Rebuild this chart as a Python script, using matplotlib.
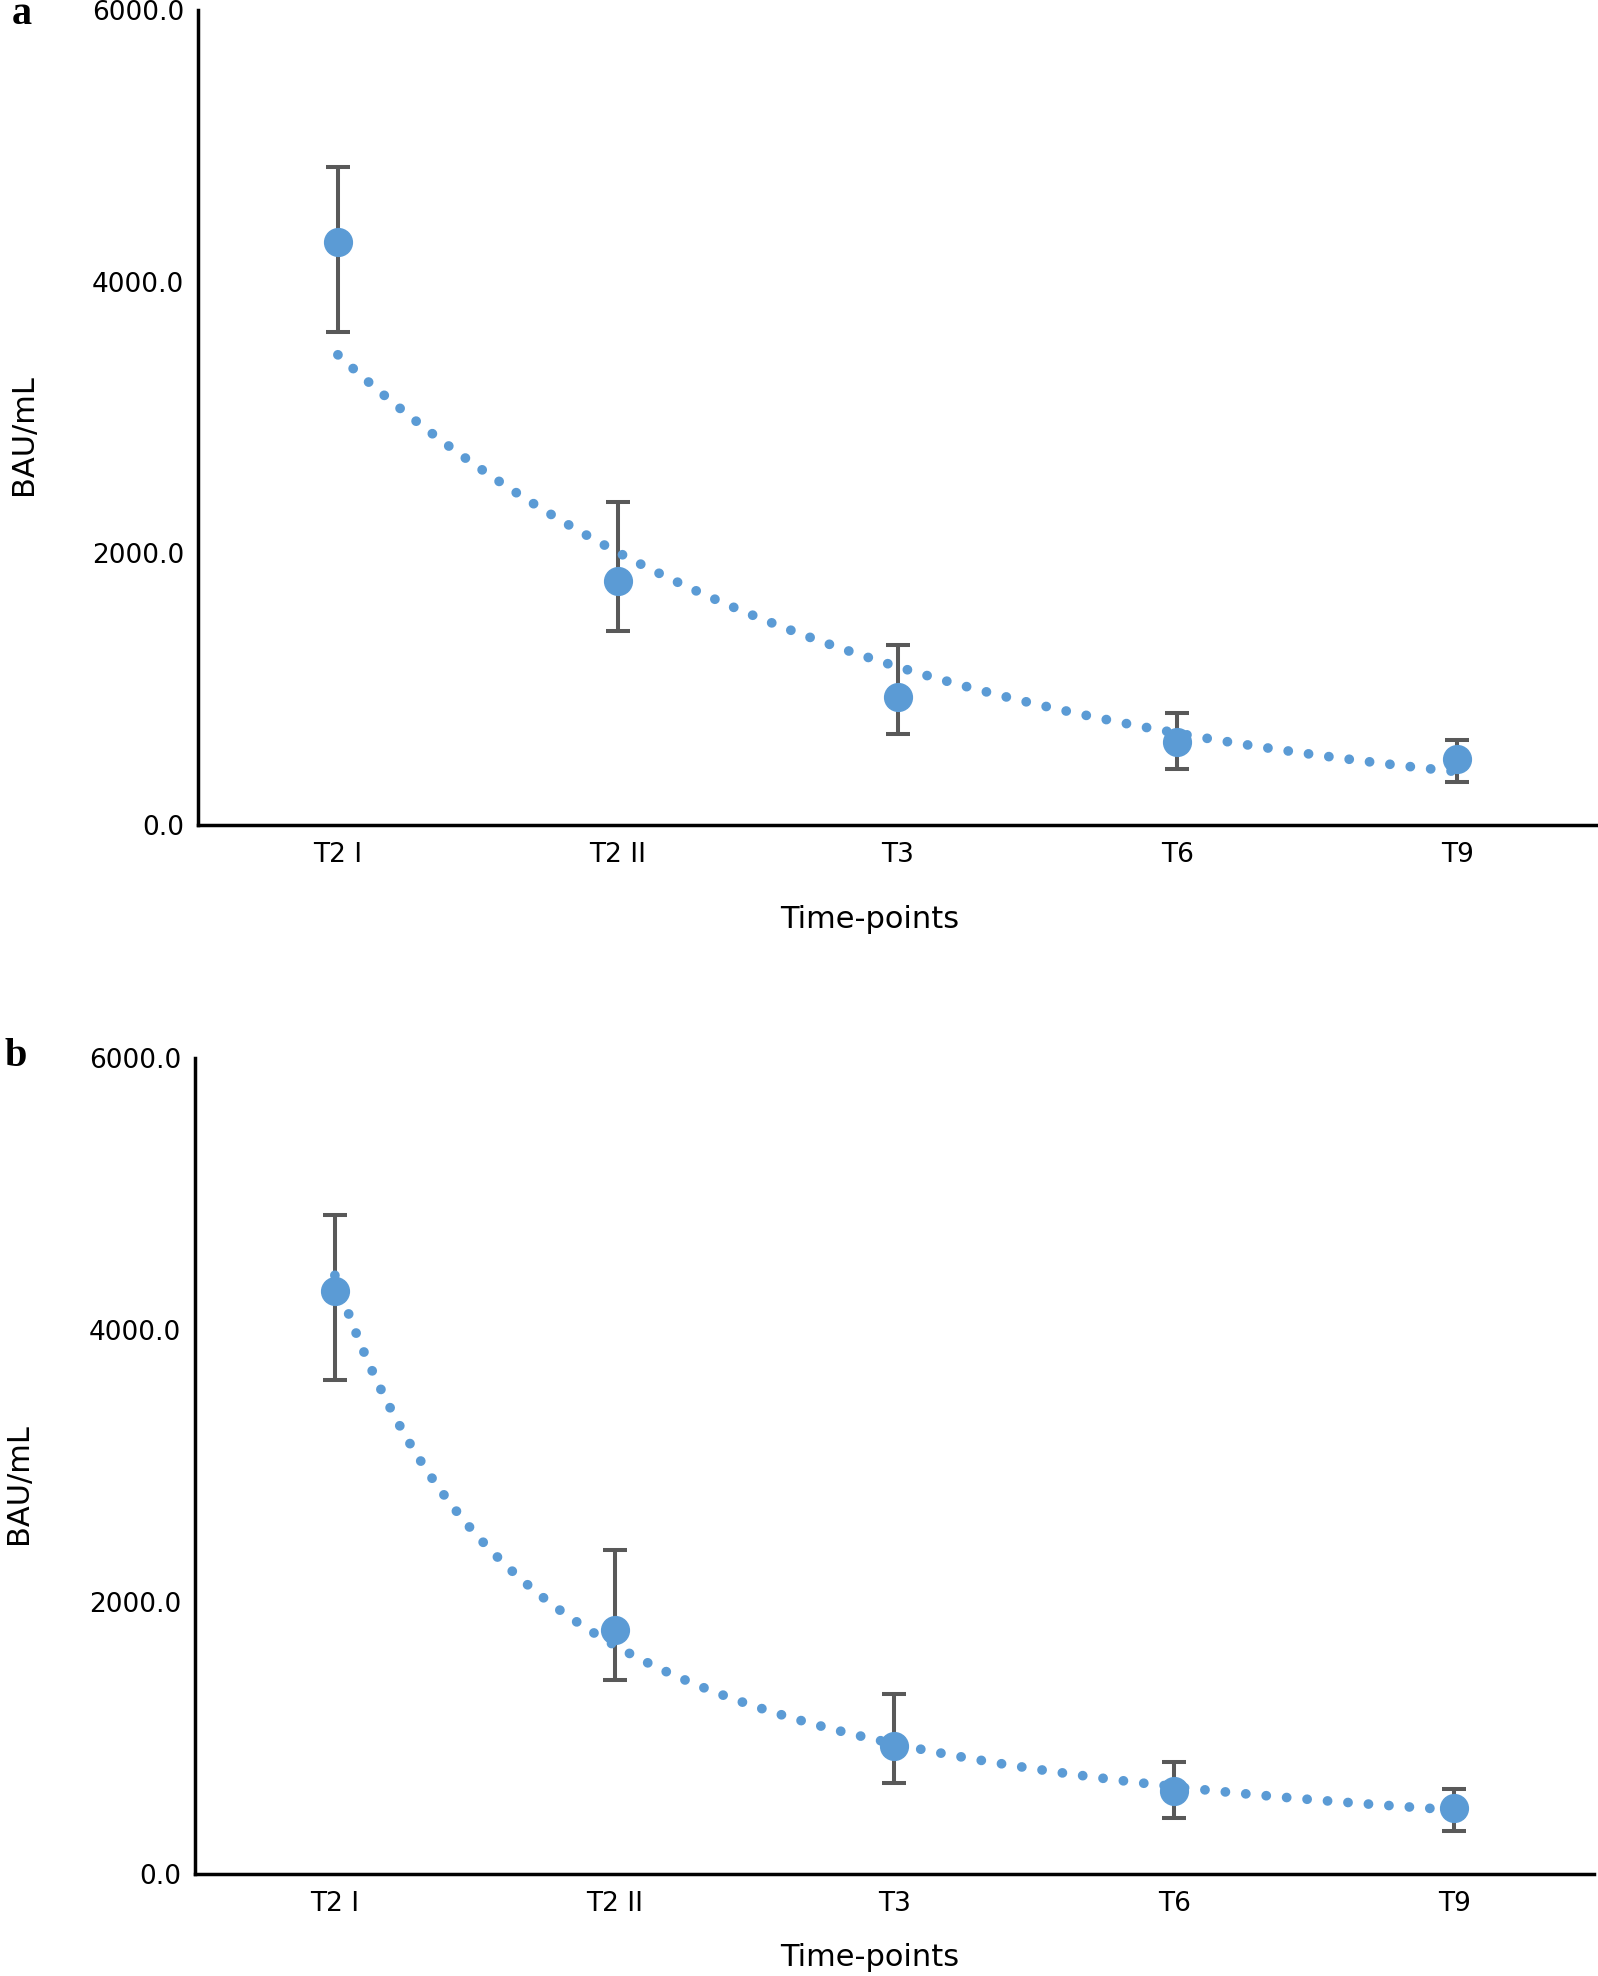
import numpy as np
import matplotlib
matplotlib.use('Agg')
import matplotlib.pyplot as plt

# Data (BAU/mL)
time_points = ['T2 I', 'T2 II', 'T3', 'T6', 'T9']
mean_bau = [4290, 1796, 945, 609, 484]
err_upper = [552, 584, 380, 213, 142]
err_lower = [657, 368, 273, 199, 167]

y_ticks = [0, 2000, 4000, 6000]

point_color = '#5B9BD5'
err_color = '#595959'

plt.rcParams['font.family'] = ['DejaVu Sans']

fig = plt.figure(figsize=(15.98, 19.76), dpi=100)
ax_a = fig.add_axes([0.1239, 0.5825, 0.8755, 0.4124])
ax_b = fig.add_axes([0.1220, 0.0516, 0.8755, 0.4130])

x = np.arange(1, len(time_points) + 1)
x_fit = np.linspace(1, len(time_points), 300)

# panel a: exponential trendline, panel b: power trendline (fitted to the means)
k_exp, c_exp = np.polyfit(x, np.log(mean_bau), 1)
trend_a = np.exp(c_exp + k_exp * x_fit)
k_pow, c_pow = np.polyfit(np.log(x), np.log(mean_bau), 1)
trend_b = np.exp(c_pow) * x_fit ** k_pow


def style_axis(ax, xlab_pos, ylab_pos):
    ax.errorbar(x, mean_bau, yerr=[err_lower, err_upper], fmt='none',
                ecolor=err_color, elinewidth=2.9, capsize=8.5, capthick=2.9, zorder=2)
    ax.plot(x, mean_bau, 'o', color=point_color, markersize=20, zorder=3)
    ax.set_xlim(0.5, len(time_points) + 0.5)
    ax.set_ylim(0, 6000)
    ax.set_xticks(x)
    ax.set_xticklabels(time_points)
    ax.set_yticks(y_ticks)
    ax.set_yticklabels(['%.1f' % v for v in y_ticks])
    ax.tick_params(length=0, labelsize=19)
    ax.tick_params(axis='y', pad=10)
    ax.tick_params(axis='x', pad=12)
    for side in ['top', 'right']:
        ax.spines[side].set_visible(False)
    for side in ['left', 'bottom']:
        ax.spines[side].set_linewidth(2.5)
        ax.spines[side].set_color('black')
    ax.set_xlabel('Time-points', fontsize=22)
    ax.set_ylabel('BAU/mL', fontsize=22)
    ax.xaxis.set_label_coords(*xlab_pos)
    ax.xaxis.label.set_verticalalignment('center')
    ax.yaxis.set_label_coords(*ylab_pos)
    ax.yaxis.label.set_verticalalignment('center')


style_axis(ax_a, (0.48, -0.1166), (-0.125, 0.479))
style_axis(ax_b, (0.482, -0.1017), (-0.126, 0.479))

for ax, trend in [(ax_a, trend_a), (ax_b, trend_b)]:
    ax.plot(x_fit, trend, color=point_color, linewidth=7,
            linestyle=(0, (0.01, 2.1)), dash_capstyle='round', zorder=4)

fig.text(22 / 1598, 1 - 15 / 1976, 'a', fontsize=29, fontweight='bold',
         family='Liberation Serif', ha='center', va='center')
fig.text(16 / 1598, 1 - 1056 / 1976, 'b', fontsize=29, fontweight='bold',
         family='Liberation Serif', ha='center', va='center')

fig.savefig('out.png', dpi=100)
